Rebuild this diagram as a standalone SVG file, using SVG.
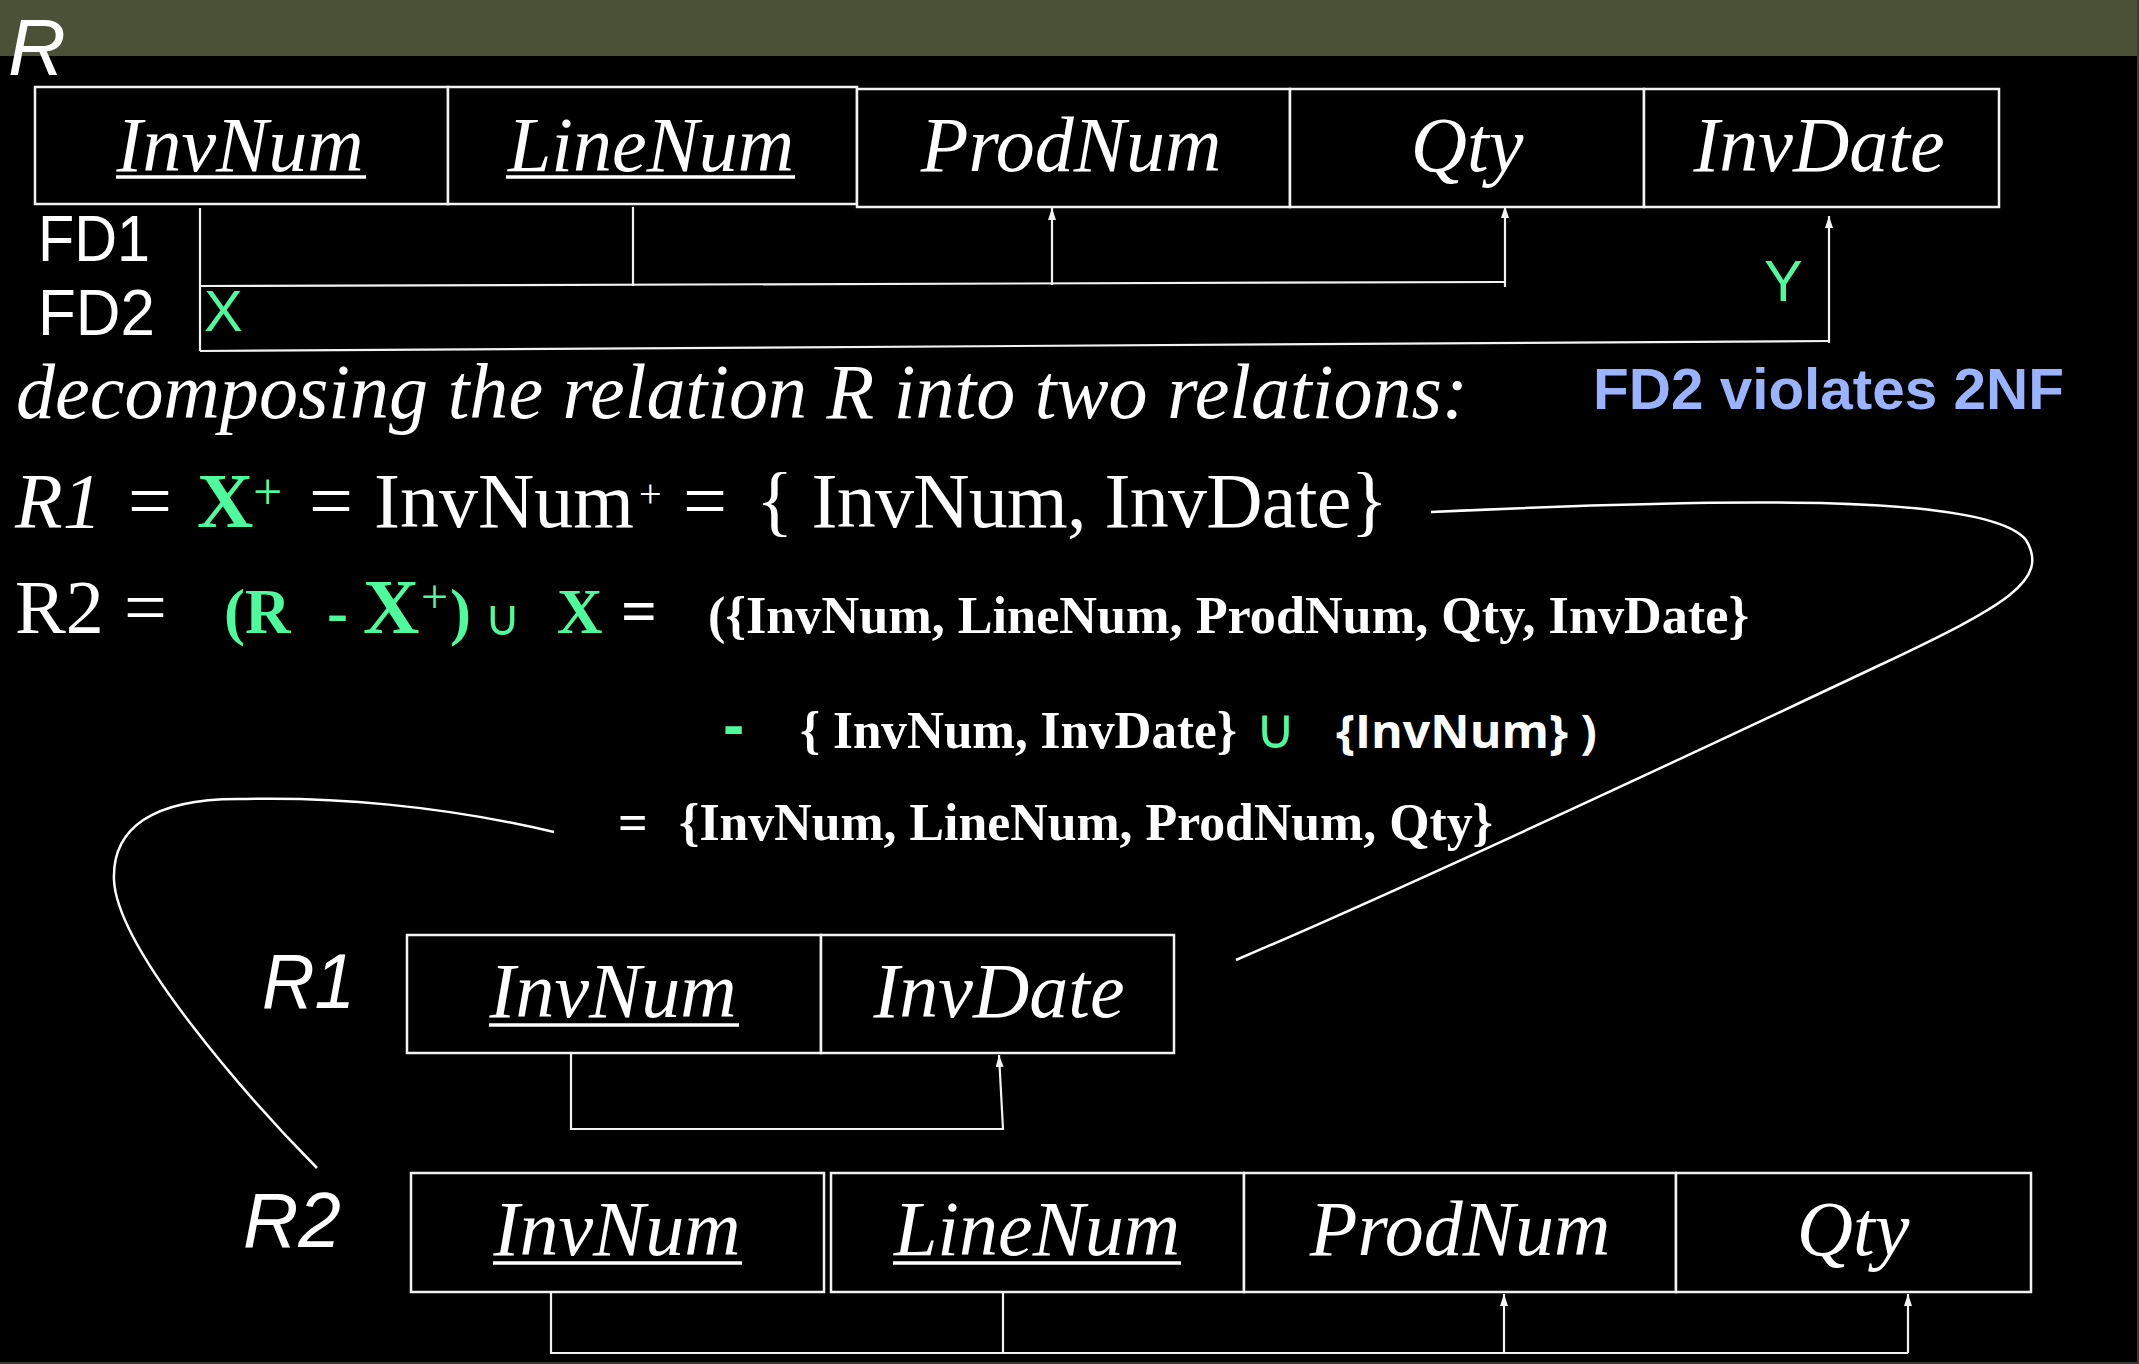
<svg xmlns="http://www.w3.org/2000/svg" width="2139" height="1364" viewBox="0 0 2139 1364">
<style>
.cell{fill:#000;stroke:#f2f2f2;stroke-width:2.5}
.attr{font-family:"Liberation Serif","Times New Roman",serif;font-style:italic;font-size:78px;fill:#fff;text-anchor:middle}
.ul{stroke:#fff;stroke-width:3.5}
.sans{font-family:"Liberation Sans",Arial,sans-serif;fill:#fff}
.serif{font-family:"Liberation Serif","Times New Roman",serif;fill:#fff}
.b{font-weight:bold}
.i{font-style:italic}
.g{fill:#4dfa9c}
.conn{fill:none;stroke:#f2f2f2;stroke-width:2.2}
.curve{fill:none;stroke:#fff;stroke-width:2.5}
</style>
<defs>
<marker id="ah" markerUnits="userSpaceOnUse" markerWidth="12" markerHeight="8" refX="12" refY="4" orient="auto"><path d="M0,0 L12,4 L0,8 z" fill="#f2f2f2"/></marker>
</defs>
<rect width="2139" height="1364" fill="#000"/>
<rect width="2139" height="56" fill="#4b5136"/>
<path d="M0,1363 H2138 V0" fill="none" stroke="#3a3a3a" stroke-width="2"/>

<text class="sans i" x="8" y="75" font-size="80">R</text>

<g id="R">
  <rect class="cell" x="35" y="87" width="413" height="117"/>
  <rect class="cell" x="448" y="87" width="409" height="117"/>
  <rect class="cell" x="857" y="89" width="433" height="118"/>
  <rect class="cell" x="1290" y="89" width="354" height="118"/>
  <rect class="cell" x="1644" y="89" width="355" height="118"/>
  <text class="attr" x="240" y="171">InvNum</text>
  <line class="ul" x1="116" y1="177" x2="366" y2="177"/>
  <text class="attr" x="651" y="171">LineNum</text>
  <line class="ul" x1="506" y1="177" x2="795" y2="177"/>
  <text class="attr" x="1071" y="171">ProdNum</text>
  <text class="attr" x="1467" y="171">Qty</text>
  <text class="attr" x="1819" y="171">InvDate</text>
</g>

<g id="fd-labels">
  <text class="sans" x="38" y="261" font-size="64" textLength="112" lengthAdjust="spacingAndGlyphs">FD1</text>
  <text class="sans" x="38" y="335" font-size="64" textLength="117" lengthAdjust="spacingAndGlyphs">FD2</text>
  <text class="sans g" x="204" y="331" font-size="58">X</text>
  <text class="sans g" x="1764" y="301" font-size="58">Y</text>
</g>

<g id="text-lines">
  <text class="serif i" x="16" y="418" font-size="78" textLength="1452" lengthAdjust="spacingAndGlyphs">decomposing the relation R into two relations:</text>
  <text class="sans b" x="1593" y="409" font-size="58" style="fill:#99b3ff" textLength="471" lengthAdjust="spacingAndGlyphs">FD2 violates 2NF</text>

  <text class="serif i" x="15" y="527" font-size="78">R1</text>
  <text class="serif" x="128" y="527" font-size="78">=</text>
  <text class="serif b g" x="197" y="527" font-size="78">X</text>
  <text class="serif g" x="253" y="509" font-size="52">+</text>
  <text class="serif" x="309" y="527" font-size="78">=</text>
  <text class="serif" x="374" y="527" font-size="78">InvNum</text>
  <text class="serif" x="639" y="507" font-size="40">+</text>
  <text class="serif" x="683" y="527" font-size="78">=</text>
  <text class="serif" x="756" y="527" font-size="78" textLength="632">{ InvNum, InvDate}</text>

  <text class="serif" x="15" y="633" font-size="76">R2</text>
  <text class="serif" x="124" y="633" font-size="76">=</text>
  <text class="serif b g" x="224" y="633" font-size="63">(R</text>
  <text class="serif b g" x="327" y="633" font-size="63">-</text>
  <text class="serif b g" x="363" y="633" font-size="78">X</text>
  <text class="serif g" x="421" y="613" font-size="48">+</text>
  <text class="serif b g" x="450" y="633" font-size="63">)</text>
  <text class="g" x="484" y="635" font-size="50" font-family="DejaVu Sans, sans-serif">∪</text>
  <text class="serif b g" x="557" y="633" font-size="63">X</text>
  <text class="serif b" x="621" y="633" font-size="63">=</text>
  <text class="serif b" x="708" y="633" font-size="52" textLength="1041" lengthAdjust="spacingAndGlyphs">({InvNum, LineNum, ProdNum, Qty, InvDate}</text>

  <text class="sans b g" x="723" y="747" font-size="64">-</text>
  <text class="serif b" x="800" y="748" font-size="52" textLength="437" lengthAdjust="spacingAndGlyphs">{ InvNum, InvDate}</text>
  <text class="g" x="1255" y="748" font-size="56" font-family="DejaVu Sans, sans-serif">∪</text>
  <text x="1336" y="748" font-size="47" font-weight="bold" font-family="'Open Sans', 'Liberation Sans', sans-serif" fill="#fff" textLength="261" lengthAdjust="spacingAndGlyphs">{InvNum} )</text>

  <text class="serif b" x="618" y="840" font-size="52">=</text>
  <text class="serif b" x="679" y="840" font-size="52" textLength="814" lengthAdjust="spacingAndGlyphs">{InvNum, LineNum, ProdNum, Qty}</text>
</g>

<g id="R1">
  <text class="sans i" x="262" y="1008" font-size="78" textLength="93" lengthAdjust="spacingAndGlyphs">R1</text>
  <rect class="cell" x="407" y="935" width="414" height="118"/>
  <rect class="cell" x="821" y="935" width="353" height="118"/>
  <text class="attr" x="613" y="1017">InvNum</text>
  <line class="ul" x1="489" y1="1025" x2="739" y2="1025"/>
  <text class="attr" x="999" y="1017">InvDate</text>
</g>

<g id="R2">
  <text class="sans i" x="243" y="1247" font-size="78" textLength="98" lengthAdjust="spacingAndGlyphs">R2</text>
  <rect class="cell" x="411" y="1173" width="413" height="119"/>
  <rect class="cell" x="831" y="1173" width="413" height="119"/>
  <rect class="cell" x="1244" y="1173" width="432" height="119"/>
  <rect class="cell" x="1676" y="1173" width="355" height="119"/>
  <text class="attr" x="617" y="1255">InvNum</text>
  <line class="ul" x1="493" y1="1263" x2="742" y2="1263"/>
  <text class="attr" x="1037" y="1255">LineNum</text>
  <line class="ul" x1="893" y1="1263" x2="1181" y2="1263"/>
  <text class="attr" x="1460" y="1255">ProdNum</text>
  <text class="attr" x="1853" y="1255">Qty</text>
</g>

<g id="connectors">
  <path class="conn" d="M200,208 V351"/>
  <path class="conn" d="M200,286 L1505,282"/>
  <path class="conn" d="M633,207 V286"/>
  <path class="conn" d="M1052,285 V208" marker-end="url(#ah)"/>
  <path class="conn" d="M1505,287 V206" marker-end="url(#ah)"/>
  <path class="conn" d="M200,351 L1829,341"/>
  <path class="conn" d="M1829,343 V216" marker-end="url(#ah)"/>

  <path class="conn" d="M571,1053 V1129 H1003 L999,1055" marker-end="url(#ah)"/>

  <path class="conn" d="M551,1292 V1353 H1908"/>
  <path class="conn" d="M1003,1292 V1353"/>
  <path class="conn" d="M1504,1353 V1294" marker-end="url(#ah)"/>
  <path class="conn" d="M1908,1353 V1294" marker-end="url(#ah)"/>

  <path class="curve" d="M1431,512 C1750,497 1990,495 2026,540 C2050,580 2007,605 1880,665 C1700,750 1400,890 1236,960"/>
  <path class="curve" d="M554,832 C440,805 330,797 246,799 C150,797 112,830 114,880 C117,950 250,1100 317,1168"/>
</g>
</svg>
